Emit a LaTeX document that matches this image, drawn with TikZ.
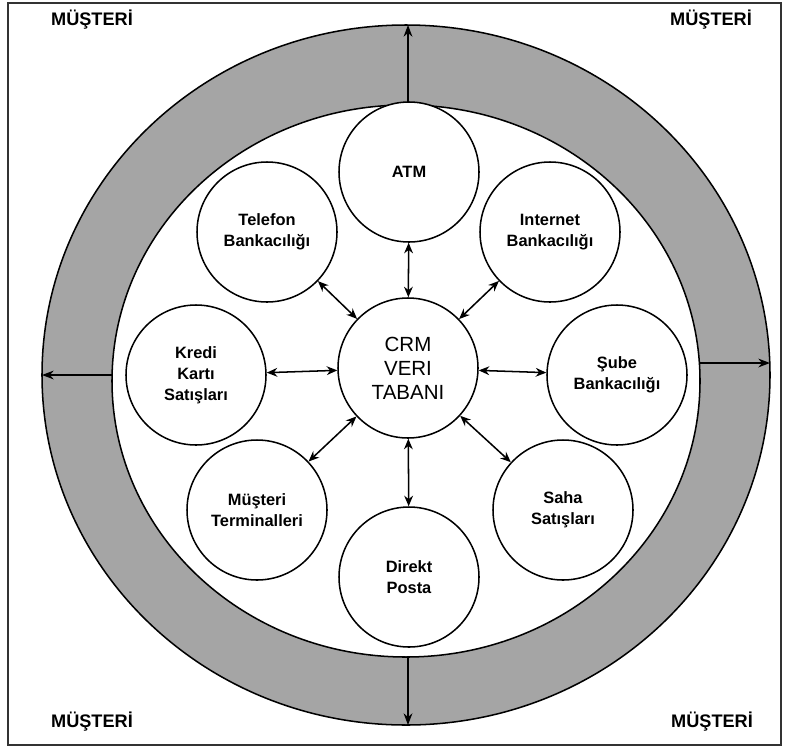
\documentclass[tikz,border=0pt]{standalone}
\usepackage{fontspec}
\setmainfont{Liberation Sans}
\usetikzlibrary{arrows.meta}
\definecolor{HalkaColor}{RGB}{165,165,165}

\begin{document}
\begin{tikzpicture}[x=0.03cm,y=-0.03cm,every node/.style={align=center},
  kanal/.style={draw,circle,line width=1.3pt,fill=white,minimum size=4.2cm,inner sep=0pt,
    font=\fontsize{14}{18}\selectfont\bfseries},
  etiket/.style={font=\fontsize{15.5}{18}\selectfont\bfseries},
  ok/.style={{Stealth[length=9pt,width=7.5pt]}-{Stealth[length=9pt,width=7.5pt]},line width=1.3pt},
  tek/.style={-{Stealth[length=10pt,width=7.5pt]},line width=1.2pt}]
\useasboundingbox (0,0) rectangle (787,747);
\draw[line width=1.2pt,black!80] (8,3) rectangle (781,745);
% halka
\filldraw[fill=HalkaColor,line width=1.3pt] (406,375) ellipse [x radius=364,y radius=350];
\filldraw[fill=white,line width=1.3pt] (406,381) ellipse [x radius=294,y radius=276];
\coordinate (ic1) at (408,105); \coordinate (dis1) at (408,25);
\coordinate (ic2) at (112,375); \coordinate (dis2) at (42,375);
\coordinate (ic3) at (700,363); \coordinate (dis3) at (770,363);
\coordinate (ic4) at (408,657); \coordinate (dis4) at (408,725);
\foreach \i in {1,2,3,4} \draw[tek] (ic\i) -- (dis\i);
% kanallar
\node[kanal] (atm) at (409,172) {ATM};
\node[kanal] (tel) at (267,232) {Telefon\\Bankacılığı};
\node[kanal] (inet) at (550,232) {Internet\\Bankacılığı};
\node[kanal] (kredi) at (196,375) {Kredi\\Kartı\\Satışları};
\node[kanal] (sube) at (617,375) {Şube\\Bankacılığı};
\node[kanal] (term) at (257,510) {Müşteri\\Terminalleri};
\node[kanal] (saha) at (563,510) {Saha\\Satışları};
\node[kanal] (posta) at (409,577) {Direkt\\Posta};
\node[kanal,font=\fontsize{17.5}{20.5}\selectfont] (crm) at (408,368) {CRM\\VERI\\TABANI};
\foreach \n in {atm,tel,inet,kredi,sube,term,saha,posta} \draw[ok] (crm) -- (\n);
% musteri
\node[etiket] (m1) at (92,20) {MÜŞTERİ};
\node[etiket] (m2) at (711,20) {MÜŞTERİ};
\node[etiket] (m3) at (92,722) {MÜŞTERİ};
\node[etiket] (m4) at (712,722) {MÜŞTERİ};
\end{tikzpicture}
\end{document}
